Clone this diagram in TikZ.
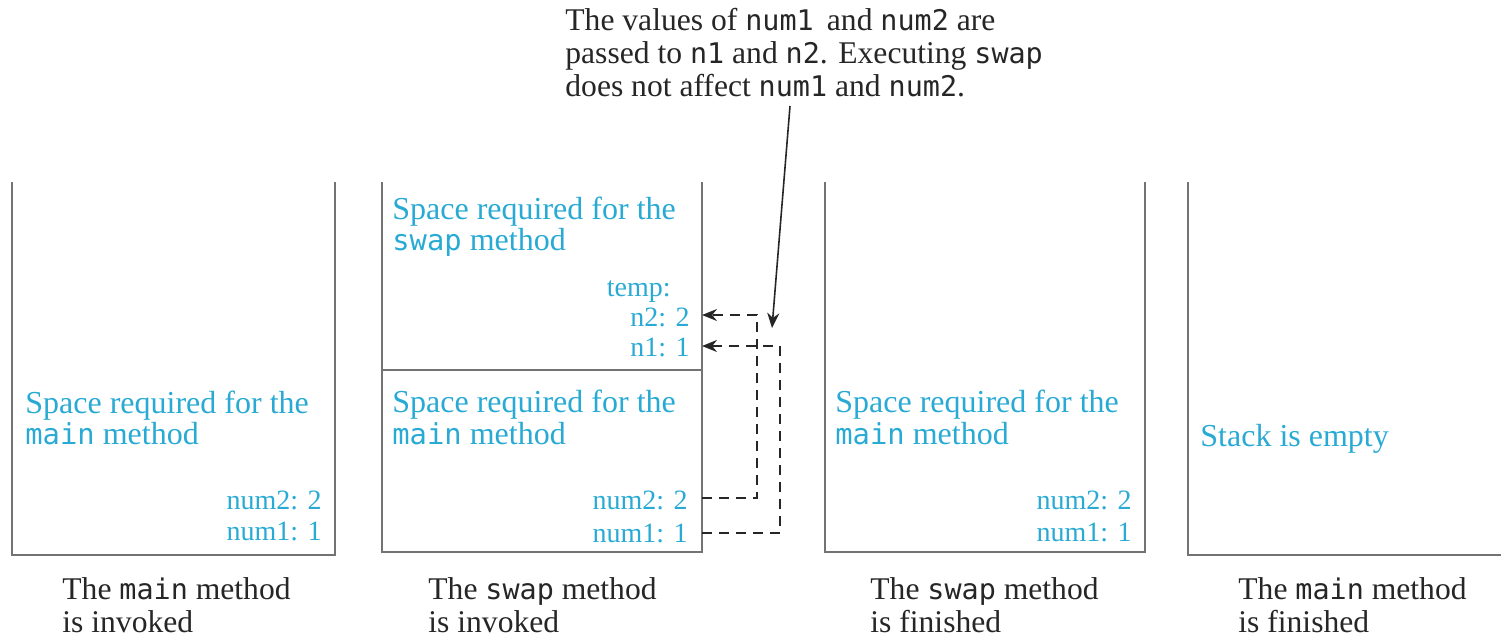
\documentclass[tikz,border=0pt]{standalone}
\usepackage{fontspec}
\setmainfont{Liberation Serif}
\setmonofont{DejaVu Sans Mono}[Scale=0.9]
\usetikzlibrary{arrows.meta}
\definecolor{stk}{RGB}{41,170,212}
\definecolor{wall}{RGB}{115,115,115}
\tikzset{
  wallline/.style={draw=wall, line width=1.3pt},
  cyantext/.style={text=stk, inner sep=0pt, font=\fontsize{16}{18}\selectfont},
  numtext/.style={text=stk, inner sep=0pt, font=\fontsize{14}{16}\selectfont},
  blacktext/.style={text=black!85, inner sep=0pt, font=\fontsize{15.8}{18}\selectfont},
  dashline/.style={draw=black!85, line width=0.8pt, dash pattern=on 5pt off 3.5pt},
  tip/.style={-{Stealth[length=7.5pt,width=6pt]}},
}
\begin{document}
\begin{tikzpicture}[x=0.5pt,y=-0.5pt]
\useasboundingbox (0,0) rectangle (1501,638);
% stacks
\draw[wallline] (12,182) -- (12,555) -- (335,555) -- (335,182);
\draw[wallline] (382,182) -- (382,552) -- (702,552) -- (702,182);
\draw[wallline] (382,370) -- (702,370);
\draw[wallline] (825,182) -- (825,552) -- (1145,552) -- (1145,182);
\draw[wallline] (1188,182) -- (1188,555) -- (1510,555);
% stack 1
\node[cyantext, anchor=base west] (s1a) at (25,413) {Space required for the};
\node[cyantext, anchor=base west] (s1b) at (25,444) {\texttt{main} method};
\node[numtext, anchor=base east] (s1c) at (322,509) {num2: 2};
\node[numtext, anchor=base east] (s1d) at (322,540) {num1: 1};
% stack 2
\node[cyantext, anchor=base west] (s2a) at (392,219) {Space required for the};
\node[cyantext, anchor=base west] (s2b) at (392,250) {\texttt{swap} method};
\node[numtext, anchor=base east] (s2c) at (671,296) {temp:};
\node[numtext, anchor=base east] (s2d) at (690,326) {n2: 2};
\node[numtext, anchor=base east] (s2e) at (690,356) {n1: 1};
\node[cyantext, anchor=base west] (s2f) at (392,412) {Space required for the};
\node[cyantext, anchor=base west] (s2g) at (392,444) {\texttt{main} method};
\node[numtext, anchor=base east] (s2h) at (688,509) {num2: 2};
\node[numtext, anchor=base east] (s2i) at (688,542) {num1: 1};
% stack 3
\node[cyantext, anchor=base west] (s3a) at (835,412) {Space required for the};
\node[cyantext, anchor=base west] (s3b) at (835,444) {\texttt{main} method};
\node[numtext, anchor=base east] (s3c) at (1132,509) {num2: 2};
\node[numtext, anchor=base east] (s3d) at (1132,541) {num1: 1};
% stack 4
\node[cyantext, anchor=base west] (s4a) at (1200,446) {Stack is empty};
% captions
\node[blacktext, anchor=base west] (c1a) at (62,599) {The \texttt{main} method};
\node[blacktext, anchor=base west] (c1b) at (62,632) {is invoked};
\node[blacktext, anchor=base west] (c2a) at (428,599) {The \texttt{swap} method};
\node[blacktext, anchor=base west] (c2b) at (428,632) {is invoked};
\node[blacktext, anchor=base west] (c3a) at (870,599) {The \texttt{swap} method};
\node[blacktext, anchor=base west] (c3b) at (870,632) {is finished};
\node[blacktext, anchor=base west] (c4a) at (1238,599) {The \texttt{main} method};
\node[blacktext, anchor=base west] (c4b) at (1238,632) {is finished};
% note
\node[blacktext, anchor=base west] (n1) at (565,30) {The values of \texttt{num1}\, and \texttt{num2} are};
\node[blacktext, anchor=base west] (n2) at (565,63) {passed to \texttt{n1} and \texttt{n2}. Executing \texttt{swap}};
\node[blacktext, anchor=base west] (n3) at (565,96) {does not affect \texttt{num1} and \texttt{num2}.};
% connectors
\coordinate (nstart) at (790,106);
\coordinate (nend) at (772,328);
\draw[black!85, line width=0.8pt, tip] (nstart) -- (nend);
\coordinate (num2out) at (702,498);
\coordinate (num1out) at (702,533);
\coordinate (n2in) at (702,315);
\coordinate (n1in) at (702,346);
\draw[dashline, tip] (num2out) -- (757,498) -- (757,315) -- (n2in);
\draw[dashline, tip] (num1out) -- (780,533) -- (780,346) -- (n1in);
\end{tikzpicture}
\end{document}
